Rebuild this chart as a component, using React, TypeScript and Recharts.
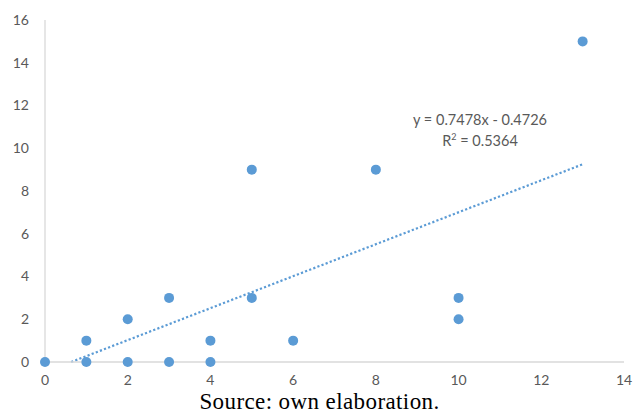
import { ScatterChart, Scatter, XAxis, YAxis, ReferenceLine } from 'recharts'

const xValues = [0, 1, 1, 2, 2, 3, 3, 4, 4, 5, 5, 6, 8, 10, 10, 13]
const yValues = [0, 1, 0, 2, 0, 3, 0, 1, 0, 9, 3, 1, 9, 3, 2, 15]
const xTicks = [0, 2, 4, 6, 8, 10, 12, 14]
const yTicks = [0, 2, 4, 6, 8, 10, 12, 14, 16]
const slope = 0.7478
const intercept = -0.4726
const equation = 'y = 0.7478x - 0.4726'
const rSquared = '0.5364'
const caption = 'Source: own elaboration.'

const points = xValues.map((x, i) => ({ x, y: yValues[i] }))
const xMax = Math.max(...xValues)
const trendStart = -intercept / slope
const trendSegment = [
  { x: trendStart, y: 0 },
  { x: xMax, y: slope * xMax + intercept },
]

const BLUE = '#5B9BD5'
const AXIS = '#D9D9D9'
const LABEL = '#595959'
const sans = 'Lato, "Open Sans", sans-serif'

const Dot = (p: any) => <circle cx={p.cx} cy={p.cy} r={5} fill={BLUE} />

export default function App() {
  return (
    <div style={{ position: 'absolute', left: 0, top: 0, width: 633, height: 416, background: '#fff', overflow: 'hidden' }}>
      <ScatterChart width={633} height={390} margin={{ top: 20, right: 9, bottom: 0, left: 0 }}>
        <XAxis
          type="number"
          dataKey="x"
          domain={[0, 14]}
          ticks={xTicks}
          tickLine={false}
          axisLine={{ stroke: AXIS, strokeWidth: 1.3 }}
          tick={{ fontSize: 14, fill: LABEL, fontFamily: sans }}
          tickMargin={7}
          height={28}
        />
        <YAxis
          type="number"
          dataKey="y"
          domain={[0, 16]}
          ticks={yTicks}
          tickLine={false}
          axisLine={{ stroke: AXIS, strokeWidth: 1.3 }}
          tick={{ fontSize: 14, fill: LABEL, fontFamily: sans }}
          tickMargin={10}
          width={45}
        />
        <ReferenceLine
          segment={trendSegment}
          stroke={BLUE}
          strokeWidth={2.2}
          strokeDasharray="2.2 2.2"
        />
        <Scatter data={points} shape={Dot} isAnimationActive={false} />
      </ScatterChart>
      <div
        style={{
          position: 'absolute', left: 410, top: 109, width: 140, textAlign: 'center',
          fontFamily: sans, fontSize: 14.5, color: LABEL, lineHeight: '21px',
        }}
      >
        <div>{equation}</div>
        <div>R<sup style={{ fontSize: 9, verticalAlign: 'super', lineHeight: 0 }}>2</sup> = {rSquared}</div>
      </div>
      <div
        style={{
          position: 'absolute', left: 0, top: 393, width: 633, textAlign: 'center',
          fontFamily: '"Liberation Serif", serif', fontSize: 23, color: '#000', lineHeight: '18px',
          paddingLeft: 6, boxSizing: 'border-box', letterSpacing: 0.4,
        }}
      >
        {caption}
      </div>
    </div>
  )
}
